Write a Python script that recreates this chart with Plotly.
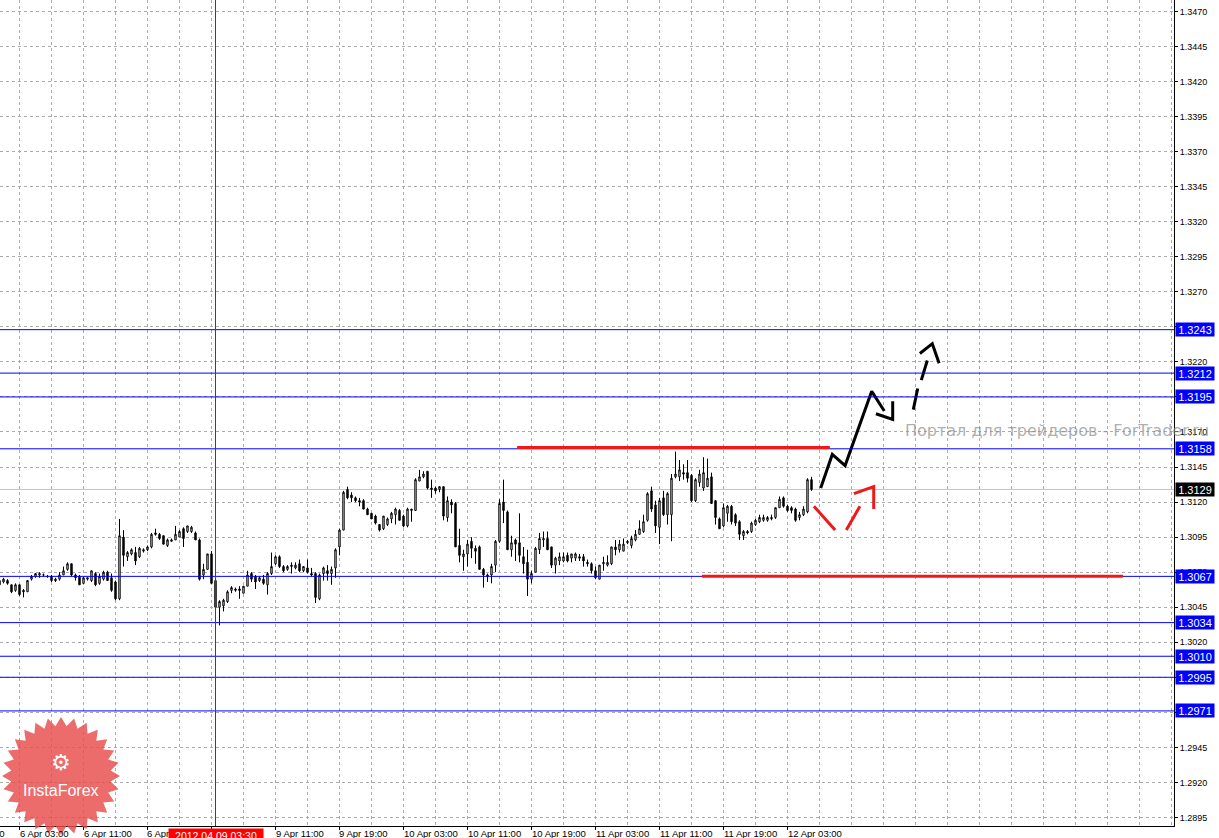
import math
import plotly.graph_objects as go

# ---------------- data (EURUSD M30) ----------------
bar_index = list(range(-1, 203))

open_ = [1.3064, 1.3063, 1.3064, 1.3061, 1.3057, 1.3061, 1.3057, 1.3056, 1.3065, 1.3067,
         1.3068, 1.3068, 1.3067, 1.3067, 1.3065, 1.3065, 1.3068, 1.3072, 1.3076, 1.3068,
         1.3067, 1.3062, 1.3065, 1.3064, 1.3069, 1.3062, 1.3065, 1.3070, 1.3066, 1.3063,
         1.3051, 1.3095, 1.3081, 1.3083, 1.3084, 1.3081, 1.3085, 1.3086, 1.3088, 1.3098,
         1.3097, 1.3096, 1.3089, 1.3092, 1.3093, 1.3095, 1.3101, 1.3099, 1.3099, 1.3098,
         1.3093, 1.3068, 1.3072, 1.3083, 1.3064, 1.3045, 1.3046, 1.3049, 1.3057, 1.3057,
         1.3058, 1.3055, 1.3060, 1.3069, 1.3067, 1.3064, 1.3065, 1.3061, 1.3069, 1.3076,
         1.3081, 1.3074, 1.3072, 1.3074, 1.3073, 1.3076, 1.3071, 1.3073, 1.3069, 1.3069,
         1.3051, 1.3069, 1.3071, 1.3069, 1.3073, 1.3088, 1.3100, 1.3129, 1.3125, 1.3123,
         1.3121, 1.3121, 1.3115, 1.3112, 1.3110, 1.3104, 1.3101, 1.3104, 1.3108, 1.3111,
         1.3114, 1.3110, 1.3103, 1.3114, 1.3114, 1.3135, 1.3138, 1.3142, 1.3130, 1.3130,
         1.3129, 1.3131, 1.3109, 1.3120, 1.3119, 1.3089, 1.3081, 1.3083, 1.3092, 1.3087,
         1.3088, 1.3072, 1.3067, 1.3068, 1.3075, 1.3092, 1.3120, 1.3113, 1.3086, 1.3093,
         1.3091, 1.3081, 1.3077, 1.3065, 1.3070, 1.3086, 1.3093, 1.3094, 1.3088, 1.3075,
         1.3078, 1.3078, 1.3082, 1.3080, 1.3080, 1.3081, 1.3081, 1.3077, 1.3076, 1.3071,
         1.3065, 1.3076, 1.3075, 1.3076, 1.3088, 1.3086, 1.3085, 1.3091, 1.3089, 1.3093,
         1.3097, 1.3099, 1.3107, 1.3128, 1.3118, 1.3102, 1.3123, 1.3111, 1.3111, 1.3138,
         1.3138, 1.3141, 1.3141, 1.3139, 1.3121, 1.3134, 1.3130, 1.3131, 1.3138, 1.3121,
         1.3108, 1.3103, 1.3112, 1.3117, 1.3111, 1.3106, 1.3096, 1.3099, 1.3099, 1.3104,
         1.3106, 1.3107, 1.3107, 1.3108, 1.3109, 1.3116, 1.3123, 1.3117, 1.3116, 1.3115,
         1.3109, 1.3111, 1.3113, 1.3136]

high = [1.3066, 1.3066, 1.3065, 1.3061, 1.3062, 1.3061, 1.3058, 1.3064, 1.3068, 1.3069,
        1.3070, 1.3069, 1.3068, 1.3068, 1.3066, 1.3070, 1.3074, 1.3077, 1.3076, 1.3069,
        1.3068, 1.3067, 1.3066, 1.3071, 1.3070, 1.3069, 1.3071, 1.3071, 1.3069, 1.3064,
        1.3108, 1.3100, 1.3085, 1.3087, 1.3088, 1.3088, 1.3087, 1.3089, 1.3098, 1.3101,
        1.3098, 1.3096, 1.3094, 1.3094, 1.3103, 1.3100, 1.3102, 1.3103, 1.3103, 1.3099,
        1.3094, 1.3076, 1.3083, 1.3085, 1.3065, 1.3050, 1.3051, 1.3057, 1.3060, 1.3059,
        1.3060, 1.3060, 1.3071, 1.3070, 1.3068, 1.3067, 1.3068, 1.3070, 1.3084, 1.3082,
        1.3082, 1.3075, 1.3075, 1.3077, 1.3077, 1.3079, 1.3074, 1.3079, 1.3073, 1.3070,
        1.3069, 1.3074, 1.3075, 1.3074, 1.3087, 1.3101, 1.3128, 1.3131, 1.3127, 1.3124,
        1.3123, 1.3122, 1.3116, 1.3112, 1.3111, 1.3104, 1.3110, 1.3109, 1.3113, 1.3116,
        1.3115, 1.3111, 1.3116, 1.3115, 1.3137, 1.3143, 1.3142, 1.3142, 1.3136, 1.3131,
        1.3131, 1.3131, 1.3124, 1.3122, 1.3120, 1.3101, 1.3086, 1.3093, 1.3095, 1.3089,
        1.3089, 1.3073, 1.3069, 1.3076, 1.3093, 1.3122, 1.3136, 1.3114, 1.3096, 1.3094,
        1.3112, 1.3088, 1.3086, 1.3071, 1.3088, 1.3098, 1.3099, 1.3099, 1.3088, 1.3081,
        1.3084, 1.3084, 1.3084, 1.3083, 1.3084, 1.3083, 1.3083, 1.3079, 1.3077, 1.3074,
        1.3075, 1.3081, 1.3082, 1.3088, 1.3093, 1.3093, 1.3094, 1.3093, 1.3096, 1.3100,
        1.3107, 1.3111, 1.3127, 1.3131, 1.3121, 1.3123, 1.3128, 1.3127, 1.3140, 1.3156,
        1.3150, 1.3147, 1.3150, 1.3140, 1.3137, 1.3143, 1.3152, 1.3151, 1.3141, 1.3121,
        1.3109, 1.3119, 1.3118, 1.3118, 1.3112, 1.3107, 1.3100, 1.3100, 1.3106, 1.3108,
        1.3111, 1.3111, 1.3110, 1.3111, 1.3116, 1.3124, 1.3124, 1.3118, 1.3117, 1.3116,
        1.3113, 1.3117, 1.3137, 1.3138]

low = [1.3060, 1.3062, 1.3061, 1.3055, 1.3056, 1.3053, 1.3052, 1.3056, 1.3064, 1.3066,
       1.3066, 1.3067, 1.3066, 1.3063, 1.3063, 1.3064, 1.3068, 1.3071, 1.3067, 1.3064,
       1.3061, 1.3062, 1.3064, 1.3063, 1.3060, 1.3061, 1.3064, 1.3064, 1.3056, 1.3050,
       1.3050, 1.3074, 1.3078, 1.3082, 1.3075, 1.3080, 1.3084, 1.3085, 1.3087, 1.3096,
       1.3093, 1.3090, 1.3088, 1.3092, 1.3093, 1.3095, 1.3088, 1.3098, 1.3098, 1.3093,
       1.3064, 1.3065, 1.3072, 1.3062, 1.3043, 1.3032, 1.3042, 1.3048, 1.3055, 1.3056,
       1.3051, 1.3055, 1.3060, 1.3063, 1.3058, 1.3063, 1.3061, 1.3054, 1.3068, 1.3075,
       1.3073, 1.3070, 1.3071, 1.3069, 1.3072, 1.3070, 1.3070, 1.3069, 1.3067, 1.3048,
       1.3050, 1.3064, 1.3064, 1.3061, 1.3066, 1.3082, 1.3100, 1.3122, 1.3120, 1.3120,
       1.3117, 1.3115, 1.3111, 1.3108, 1.3104, 1.3099, 1.3100, 1.3103, 1.3105, 1.3104,
       1.3107, 1.3102, 1.3102, 1.3106, 1.3114, 1.3135, 1.3137, 1.3129, 1.3123, 1.3126,
       1.3127, 1.3107, 1.3106, 1.3112, 1.3088, 1.3077, 1.3071, 1.3074, 1.3080, 1.3076,
       1.3072, 1.3059, 1.3063, 1.3062, 1.3070, 1.3091, 1.3105, 1.3086, 1.3081, 1.3078,
       1.3077, 1.3069, 1.3053, 1.3062, 1.3070, 1.3083, 1.3088, 1.3086, 1.3073, 1.3069,
       1.3075, 1.3077, 1.3077, 1.3077, 1.3078, 1.3078, 1.3074, 1.3074, 1.3069, 1.3065,
       1.3065, 1.3071, 1.3074, 1.3075, 1.3082, 1.3084, 1.3085, 1.3090, 1.3087, 1.3092,
       1.3097, 1.3098, 1.3106, 1.3113, 1.3098, 1.3090, 1.3110, 1.3104, 1.3092, 1.3137,
       1.3135, 1.3136, 1.3134, 1.3120, 1.3120, 1.3131, 1.3128, 1.3131, 1.3119, 1.3104,
       1.3101, 1.3102, 1.3106, 1.3104, 1.3103, 1.3093, 1.3093, 1.3097, 1.3098, 1.3103,
       1.3105, 1.3106, 1.3106, 1.3107, 1.3108, 1.3116, 1.3116, 1.3113, 1.3112, 1.3106,
       1.3107, 1.3110, 1.3112, 1.3128]

close = [1.3061, 1.3065, 1.3062, 1.3056, 1.3061, 1.3054, 1.3056, 1.3064, 1.3067, 1.3069,
         1.3069, 1.3068, 1.3067, 1.3064, 1.3064, 1.3068, 1.3071, 1.3076, 1.3068, 1.3066,
         1.3061, 1.3066, 1.3066, 1.3071, 1.3061, 1.3067, 1.3070, 1.3064, 1.3057, 1.3051,
         1.3096, 1.3082, 1.3084, 1.3086, 1.3078, 1.3087, 1.3086, 1.3088, 1.3097, 1.3097,
         1.3094, 1.3090, 1.3093, 1.3093, 1.3097, 1.3099, 1.3094, 1.3103, 1.3102, 1.3093,
         1.3065, 1.3072, 1.3083, 1.3062, 1.3045, 1.3049, 1.3050, 1.3056, 1.3059, 1.3058,
         1.3057, 1.3060, 1.3068, 1.3065, 1.3063, 1.3066, 1.3062, 1.3069, 1.3074, 1.3081,
         1.3074, 1.3071, 1.3074, 1.3075, 1.3075, 1.3071, 1.3074, 1.3070, 1.3068, 1.3052,
         1.3068, 1.3073, 1.3069, 1.3072, 1.3086, 1.3100, 1.3127, 1.3123, 1.3123, 1.3121,
         1.3120, 1.3115, 1.3111, 1.3108, 1.3105, 1.3100, 1.3110, 1.3108, 1.3112, 1.3115,
         1.3107, 1.3103, 1.3115, 1.3115, 1.3136, 1.3138, 1.3140, 1.3130, 1.3129, 1.3128,
         1.3131, 1.3110, 1.3121, 1.3118, 1.3088, 1.3082, 1.3083, 1.3090, 1.3087, 1.3085,
         1.3072, 1.3068, 1.3068, 1.3074, 1.3092, 1.3119, 1.3114, 1.3086, 1.3091, 1.3090,
         1.3082, 1.3076, 1.3065, 1.3069, 1.3087, 1.3094, 1.3094, 1.3086, 1.3075, 1.3080,
         1.3081, 1.3081, 1.3078, 1.3083, 1.3083, 1.3080, 1.3078, 1.3076, 1.3071, 1.3066,
         1.3075, 1.3077, 1.3077, 1.3088, 1.3086, 1.3090, 1.3090, 1.3092, 1.3094, 1.3097,
         1.3101, 1.3106, 1.3126, 1.3115, 1.3103, 1.3121, 1.3111, 1.3126, 1.3137, 1.3140,
         1.3143, 1.3140, 1.3137, 1.3121, 1.3136, 1.3140, 1.3141, 1.3137, 1.3119, 1.3109,
         1.3101, 1.3116, 1.3117, 1.3106, 1.3105, 1.3097, 1.3099, 1.3098, 1.3105, 1.3107,
         1.3109, 1.3109, 1.3109, 1.3109, 1.3116, 1.3122, 1.3117, 1.3114, 1.3114, 1.3107,
         1.3111, 1.3115, 1.3136, 1.3129]

# time-axis labels (bar index of each labelled bar)
time_tick_index = [-12, 4, 20, 36, 52, 68, 84, 100, 116, 132, 148, 164, 180, 196]
time_tick_text = ["5 Apr 19:00", "6 Apr 03:00", "6 Apr 11:00", "6 Apr 19:00", "9 Apr 03:00",
                  "9 Apr 11:00", "9 Apr 19:00", "10 Apr 03:00", "10 Apr 11:00", "10 Apr 19:00",
                  "11 Apr 03:00", "11 Apr 11:00", "11 Apr 19:00", "12 Apr 03:00"]

# horizontal levels
level_prices = [1.3243, 1.3212, 1.3195, 1.3158, 1.3067, 1.3034, 1.3010, 1.2995, 1.2971]
bid_price = 1.3129

crosshair_index = 53
crosshair_label = "2012.04.09 03:30"

# red support / resistance zones (bar index, price)
resistance_index = [128.4, 206.6]
resistance_price = 1.3159
support_index = [174.6, 279.9]
support_price = 1.3067

# forecast drawings (bar index, price)
black_path_index = [204.3, 207.2, 210.4, 217.05, 220.2]
black_path_price = [1.3130, 1.3154, 1.3146, 1.3199, 1.3185]
black_head_index = [218.1, 222.3, 222.3]
black_head_price = [1.3183, 1.3179, 1.3192]
dash_path_index = [227.45, 228.55, None, 229.45, 230.95]
dash_path_price = [1.3186, 1.3201, None, 1.3207, 1.3221]
dash_head_index = [229.1, 232.2, 233.9]
dash_head_price = [1.3226, 1.3233, 1.3219]
red_path_index = [202.6, 207.9, None, 210.7, 214.1]
red_path_price = [1.3117, 1.3100, None, 1.3100, 1.3117]
red_head_index = [212.6, 217.55, 217.55]
red_head_price = [1.3126, 1.3131, 1.3115]

# ---------------- layout geometry ----------------
W, H = 1219, 838
M_R, M_B = 45, 12
PW, PH = W - M_R, H - M_B
X_MIN, X_MAX = -0.875, 292.625
Y_MIN, Y_MAX = 1.28889, 1.34782

FONT = "Liberation Sans, Arial, sans-serif"
GRID = "#ababab"
BLUE = "#0000ff"
RED = "#f01818"


def xpaper(i):
    return (i - X_MIN) / (X_MAX - X_MIN)


fig = go.Figure()

fig.add_trace(go.Candlestick(
    x=bar_index, open=open_, high=high, low=low, close=close,
    increasing=dict(fillcolor="white", line=dict(color="black", width=1)),
    decreasing=dict(fillcolor="black", line=dict(color="black", width=1)),
    whiskerwidth=0, hoverinfo="skip", showlegend=False,
))

for xs, ys, col in [
    (black_path_index, black_path_price, "black"),
    (black_head_index, black_head_price, "black"),
    (dash_path_index, dash_path_price, "black"),
    (dash_head_index, dash_head_price, "black"),
    (red_path_index, red_path_price, RED),
    (red_head_index, red_head_price, RED),
]:
    fig.add_trace(go.Scatter(x=xs, y=ys, mode="lines",
                             line=dict(color=col, width=3),
                             hoverinfo="skip", showlegend=False, connectgaps=False))

shapes = []
# bid line
shapes.append(dict(type="line", xref="paper", x0=0, x1=1, yref="y", y0=bid_price, y1=bid_price,
                   line=dict(color="#c4c4c4", width=1), layer="below"))
# level lines
for p in level_prices:
    shapes.append(dict(type="line", xref="paper", x0=0, x1=1, yref="y", y0=p, y1=p,
                       line=dict(color=BLUE, width=1)))
# crosshair
shapes.append(dict(type="line", xref="x", x0=crosshair_index, x1=crosshair_index,
                   yref="paper", y0=0, y1=1, line=dict(color="#e00000", width=1)))
# red zones
shapes.append(dict(type="line", xref="x", x0=resistance_index[0], x1=resistance_index[1],
                   yref="y", y0=resistance_price, y1=resistance_price,
                   line=dict(color=RED, width=3)))
shapes.append(dict(type="line", xref="x", x0=support_index[0], x1=support_index[1],
                   yref="y", y0=support_price, y1=support_price,
                   line=dict(color=RED, width=3)))

# InstaForex starburst logo (pixel geometry -> paper)
cx, cy, r_out, r_in, n = 61, 776, 59, 50, 28
pts = []
for k in range(2 * n):
    r = r_out if k % 2 == 0 else r_in
    a = math.pi * k / n - math.pi / 2
    px = cx + r * math.cos(a)
    py = cy + r * math.sin(a)
    pts.append((px / PW, 1 - py / PH))
star_path = "M " + " L ".join(f"{x:.5f},{y:.5f}" for x, y in pts) + " Z"
shapes.append(dict(type="path", xref="paper", yref="paper", path=star_path,
                   fillcolor="rgba(232,76,76,0.82)", line=dict(width=0), layer="above"))

annotations = []
# time labels
for idx, txt in zip(time_tick_index, time_tick_text):
    annotations.append(dict(x=xpaper(idx), xref="paper", xanchor="left", xshift=-2,
                            y=0, yref="paper", yanchor="top", yshift=0,
                            text=txt, showarrow=False,
                            font=dict(family=FONT, size=9.5, color="black")))
# crosshair time label
annotations.append(dict(x=xpaper(crosshair_index), xref="paper", xanchor="center",
                        y=0, yref="paper", yanchor="top", yshift=-2,
                        text=crosshair_label, showarrow=False, bgcolor="#ff0000",
                        borderpad=1, width=92,
                        font=dict(family=FONT, size=10.5, color="white")))
# price boxes
for p in level_prices:
    annotations.append(dict(x=1, xref="paper", xanchor="left", xshift=1,
                            y=p, yref="y", yanchor="middle",
                            text=f"{p:.4f}", showarrow=False, bgcolor=BLUE,
                            borderpad=1, width=36, height=11,
                            font=dict(family=FONT, size=11, color="white")))
annotations.append(dict(x=1, xref="paper", xanchor="left", xshift=1,
                        y=bid_price, yref="y", yanchor="middle",
                        text=f"{bid_price:.4f}", showarrow=False, bgcolor="black",
                        borderpad=1, width=36, height=11,
                        font=dict(family=FONT, size=11, color="white")))
# watermark
annotations.append(dict(x=903 / PW, xref="paper", xanchor="left",
                        y=1 - 430 / PH, yref="paper", yanchor="middle",
                        text="Портал для трейдеров - ForTrader.ru", showarrow=False,
                        font=dict(family="DejaVu Sans", size=16, color="rgba(140,140,140,0.7)")))
# logo texts
annotations.append(dict(x=cx / PW, xref="paper", xanchor="center",
                        y=1 - 762 / PH, yref="paper", yanchor="middle",
                        text="⚙", showarrow=False,
                        font=dict(family="DejaVu Sans", size=22, color="white")))
annotations.append(dict(x=cx / PW, xref="paper", xanchor="center",
                        y=1 - 790 / PH, yref="paper", yanchor="middle",
                        text="InstaForex", showarrow=False,
                        font=dict(family=FONT, size=16, color="white")))

fig.update_layout(
    width=W, height=H,
    margin=dict(l=0, r=M_R, t=0, b=M_B, pad=0),
    paper_bgcolor="white", plot_bgcolor="white",
    showlegend=False, boxgap=0.5,
    shapes=shapes, annotations=annotations,
    xaxis=dict(range=[X_MIN, X_MAX], rangeslider=dict(visible=False),
               tickmode="array", tickvals=time_tick_index, ticktext=[""] * len(time_tick_index),
               showticklabels=False, ticks="outside", ticklen=3, tickcolor="black",
               showline=True, linecolor="black", linewidth=1, zeroline=False,
               showgrid=True, gridcolor=GRID, griddash="3px,3px", gridwidth=1,
               minor=dict(tick0=4, dtick=8, showgrid=True, gridcolor=GRID,
                          griddash="3px,3px", gridwidth=1, ticks=""),
               fixedrange=True),
    yaxis=dict(range=[Y_MIN, Y_MAX], side="right", tickmode="linear",
               tick0=1.2895, dtick=0.0025, tickformat=".4f",
               ticks="outside", ticklen=3, tickcolor="black",
               showline=True, linecolor="black", linewidth=1, zeroline=False,
               showgrid=True, gridcolor=GRID, griddash="3px,3px", gridwidth=1,
               tickfont=dict(family=FONT, size=9, color="black"),
               fixedrange=True),
)

fig.write_html("out.html", config={"displayModeBar": False},
               post_script="document.body.style.margin='0';document.body.style.overflow='hidden';")
